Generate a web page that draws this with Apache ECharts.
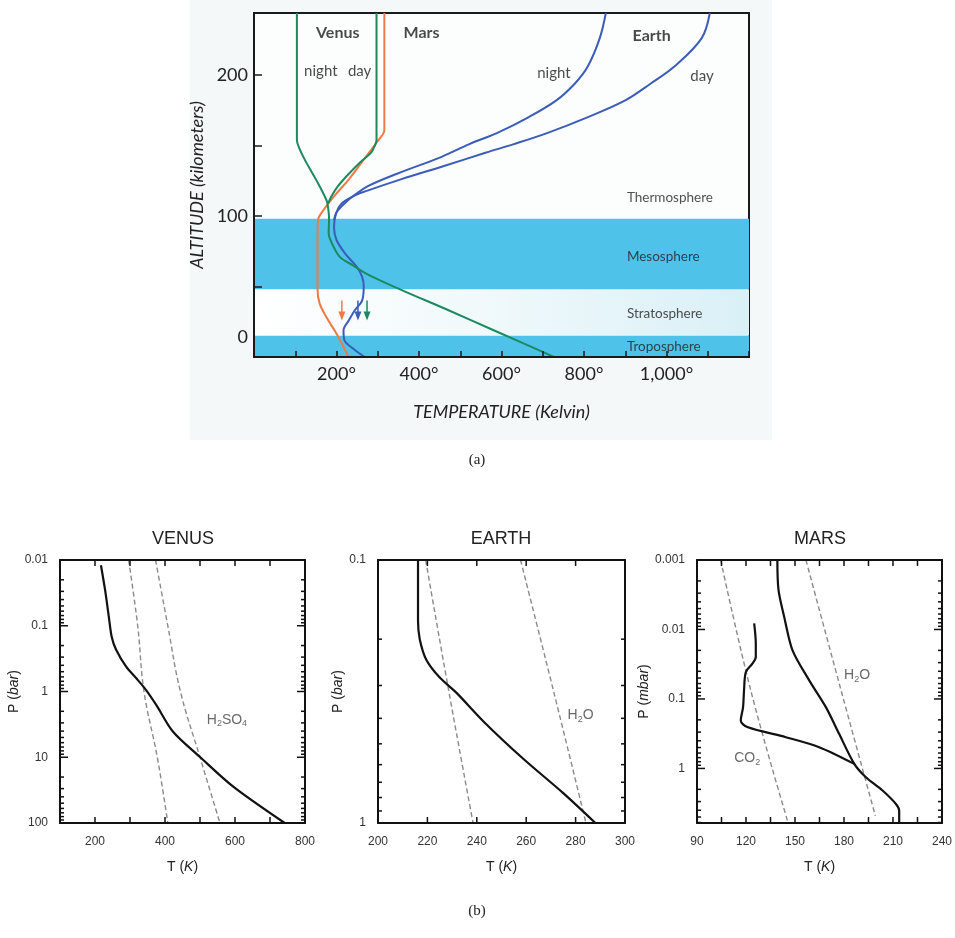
<!DOCTYPE html>
<html><head><meta charset="utf-8">
<script src="https://cdn.jsdelivr.net/npm/echarts@6/dist/echarts.min.js"></script>
<style>html,body{margin:0;padding:0;background:#fff}#c{width:955px;height:938px}</style>
</head><body><div id="c"></div>
<script>
// ================= Panel (a) data =================
const topXLabelValues = [200,400,600,800,1000];
const topXLabelText = ['200°','400°','600°','800°','1,000°'];
const topYLabelValues = [0,100,200];

const venusNight = [[104,244],[104,154],[110,148],[123,140],[150,126],[176,111],[180,105],[182,98],[181,88],[190,80],[208,71],[240,65],[273,59],[354,48],[473,33],[581,19],[712,2],[727,0]];
const venusDay   = [[297,244],[297,154],[293,150],[284,145],[257,138],[230,130],[203,121],[186,113],[180,109]];
const marsProfile = [[316,244],[316,161],[302,154],[266,140],[230,126],[194,114],[163,102],[155,97],[154,80],[154,48],[159,38],[176,28],[199,17],[226,2],[229,0]];
const earthNight = [[853,244],[838,226],[809,206],[778,194],[733,182],[665,170],[590,159],[522,151],[455,142],[347,130],[275,121],[240,114],[213,109],[199,102],[194,92],[200,83],[222,73],[249,64],[262,57],[266,50],[262,40],[244,33],[230,26],[217,19],[219,12],[240,6],[268,0]];
const earthDay   = [[1105,244],[1085,226],[1019,206],[962,194],[900,182],[808,170],[712,159],[630,151],[563,145],[455,135],[356,126],[275,118],[240,114],[213,107],[199,102],[194,97]];

const arrowT = [213, 252, 274];
const arrowTop = 40, arrowBottom = 29;
const arrowColors = ['#f07a45', '#3b5cb8', '#1b8a5e'];

const layerNames = ['Thermosphere','Mesosphere','Stratosphere','Troposphere'];
const layerAlt = [113, 71, 31, 7];
const layerT = 904;
const tropoBand = [0, 15];
const stratoBand = [15, 48];
const mesoBand = [48, 98];

const planetNames = ['Venus','Mars','Earth'];
const planetT = [203, 406, 964];
const planetAlt = [230, 230, 228];
const timeNames = ['night','day','night','day'];
const timeT = [162, 256, 727, 1086];
const timeAlt = [203, 203, 201, 199];

// ================= Panel (b) data =================
const venusXTicks = [100,200,300,400,500,600,700,800];
const venusXLabels = [200,400,600,800];
const venusYMajor = [0.01,0.1,1,10,100];
const venusYLabels = [0.01,0.1,1,10,100];
const venusProfile = [[217,0.012],[229,0.029],[239,0.07],[248,0.15],[260,0.23],[289,0.42],[318,0.63],[346,0.95],[375,1.6],[423,4.1],[500,9.9],[595,28],[742,100]];
const venusSat1 = [[296,0.01],[322,0.1],[340,1],[378,10],[408,100]];
const venusSat2 = [[373,0.01],[408,0.1],[444,1],[500,10],[557,100]];

const earthXTicks = [200,220,240,260,280,300];
const earthXLabels = [200,220,240,260,280,300];
const earthYMajor = [0.1,1];
const earthYMinor = [0.2,0.3,0.4,0.5,0.6,0.7,0.8,0.9];
const earthYLabels = [0.1,1];
const earthProfile = [[216.2,0.1],[216.2,0.17],[216.9,0.2],[219.6,0.24],[225,0.28],[231.8,0.32],[242.6,0.41],[258.8,0.57],[275,0.77],[288,1]];
const earthSat1 = [[219.3,0.1],[228.6,0.313],[238.5,1]];
const earthSat2 = [[257.7,0.1],[271,0.313],[284.2,1]];

const marsXTicks = [90,105,120,135,150,165,180,195,210,225,240];
const marsXLabels = [90,120,150,180,210,240];
const marsYMajor = [0.001,0.01,0.1,1];
const marsYLabels = [0.001,0.01,0.1,1];
const marsSurface = [[139.2,0.001],[139.9,0.0027],[143.4,0.0066],[148.5,0.02],[158.7,0.054],[168.9,0.131],[177,0.317],[186.3,0.86],[193.4,1.34],[203.6,2.08],[211.8,3.25],[213.8,4.05],[213.8,6.1]];
const marsLoop = [[125,0.0082],[126,0.0159],[126,0.0248],[123.9,0.031],[119.9,0.041],[118.8,0.075],[118.2,0.131],[116.8,0.204],[120.8,0.254],[144.4,0.355],[164.8,0.494],[186.3,0.86]];
const marsCO2 = [[104.5,0.001],[122.9,0.075],[145.4,5.65]];
const marsH2O = [[156.7,0.001],[178.2,0.075],[199.2,4.8]];

const satLabels = [
  {g:0, text:'H{s|2}SO{s|4}', at:[577,2.7]},
  {g:1, text:'H{s|2}O', at:[282,0.39]},
  {g:2, text:'H{s|2}O', at:[188,0.046]},
  {g:2, text:'CO{s|2}', at:[120.7,0.72]}
];

// ================= build =================
const FA = 'Lato';
const FB = 'Liberation Sans';

function logMinor(min, max){
  const out=[];
  for(let e=Math.floor(Math.log10(min)); e<=Math.ceil(Math.log10(max)); e++){
    for(let m=2;m<10;m++){
      const v=+(m*Math.pow(10,e)).toPrecision(3);
      if(v>min && v<max) out.push(v);
    }
  }
  return out;
}

const grids = [
  {left:254, right:206, top:13, bottom:581, show:true, backgroundColor:'#fcfefe', borderColor:'#1a1a1a', borderWidth:2},
  {left:60, right:650, top:560, bottom:115},
  {left:378, right:330, top:560, bottom:115},
  {left:697, right:12, top:560, bottom:115}
];

const xAxes = [{
  gridIndex:0, type:'value', min:0, max:1200, interval:100, z:10,
  axisLine:{show:true, onZero:false, lineStyle:{color:'#1a1a1a', width:2}},
  axisTick:{show:true, inside:true, length:6, lineStyle:{color:'#1a1a1a', width:1.5}},
  axisLabel:{margin:8, fontSize:18, fontFamily:FA, color:'#222', showMinLabel:true, showMaxLabel:true,
    formatter:v=>{const i=topXLabelValues.indexOf(Math.round(v)); return i>=0?topXLabelText[i]:'';}},
  splitLine:{show:false},
  name:'TEMPERATURE (Kelvin)', nameLocation:'middle', nameGap:46,
  nameTextStyle:{fontSize:18, fontStyle:'italic', fontFamily:FA, color:'#222'}
}];
const yAxes = [{
  gridIndex:0, type:'value', min:0, max:244, interval:50, z:10,
  axisLine:{show:true, onZero:false, lineStyle:{color:'#1a1a1a', width:2}},
  axisTick:{show:true, inside:true, length:8, lineStyle:{color:'#1a1a1a', width:1.5}},
  axisLabel:{margin:6, fontSize:18, fontFamily:FA, color:'#222', showMinLabel:true, showMaxLabel:false,
    formatter:v=>{const r=Math.round(v); if(topYLabelValues.indexOf(r)<0) return ''; return r===0?'{z|0}':String(r);},
    rich:{z:{fontSize:18, fontFamily:FA, color:'#222', padding:[0,0,40,0]}}},
  splitLine:{show:false},
  name:'ALTITUDE (kilometers)', nameLocation:'middle', nameGap:44, nameRotate:90,
  nameTextStyle:{fontSize:18, fontStyle:'italic', fontFamily:FA, color:'#222'}
}];

const bottomSpec = [
  {xmin:100, xmax:800, xint:100, xt:venusXTicks, xl:venusXLabels, ymin:0.01, ymax:100, ymaj:venusYMajor, minor:logMinor(0.01,100), yl:venusYLabels, yname:'P ({i|bar})', ygap:38},
  {xmin:200, xmax:300, xint:20, xt:earthXTicks, xl:earthXLabels, ymin:0.1, ymax:1, ymaj:earthYMajor, minor:earthYMinor, yl:earthYLabels, yname:'P ({i|bar})', ygap:22},
  {xmin:90, xmax:240, xint:15, xt:marsXTicks, xl:marsXLabels, ymin:0.001, ymax:6.1, ymaj:marsYMajor, minor:logMinor(0.001,6.1), yl:marsYLabels, yname:'P ({i|mbar})', ygap:37}
];
const lineB = {color:'#111', width:2};
const lblB = {fontSize:12, fontFamily:FB, color:'#333'};
const nameStyleB = {fontSize:14, fontFamily:FB, color:'#222', rich:{i:{fontSize:14, fontFamily:FB, fontStyle:'italic', color:'#222'}}};
bottomSpec.forEach((s,i)=>{
  const g=i+1;
  xAxes.push({gridIndex:g, type:'value', min:s.xmin, max:s.xmax, interval:s.xint, position:'bottom', z:10,
    axisLine:{show:true,onZero:false,lineStyle:lineB},
    axisTick:{show:false},
    axisLabel:Object.assign({margin:13, showMinLabel:true, showMaxLabel:true,
      formatter:(v=>{const r=Math.round(v); return s.xl.indexOf(r)>=0?String(r):'';})}, lblB),
    splitLine:{show:false},
    name:'T ({i|K})', nameLocation:'middle', nameGap:37, nameTextStyle:nameStyleB
  });
  xAxes.push({gridIndex:g, type:'value', min:s.xmin, max:s.xmax, interval:s.xint, position:'top', z:10,
    axisLine:{show:true,onZero:false,lineStyle:lineB},
    axisTick:{show:false}, axisLabel:{show:false}, splitLine:{show:false}});
  yAxes.push({gridIndex:g, type:'log', logBase:10, min:s.ymin, max:s.ymax, inverse:true, position:'left', z:10,
    axisLine:{show:true, onZero:false, lineStyle:lineB},
    axisTick:{show:false},
    axisLabel:Object.assign({customValues:s.yl, margin:12, showMinLabel:true, showMaxLabel:true,
      formatter:v=>String(+(+v).toPrecision(3))}, lblB),
    splitLine:{show:false},
    name:s.yname, nameLocation:'middle', nameGap:s.ygap, nameRotate:90, nameTextStyle:nameStyleB
  });
  yAxes.push({gridIndex:g, type:'log', logBase:10, min:s.ymin, max:s.ymax, inverse:true, position:'right', z:10,
    axisLine:{show:true, onZero:false, lineStyle:lineB},
    axisTick:{show:false}, axisLabel:{show:false}, splitLine:{show:false}});
});

const series = [];
// layer bands
series.push({type:'line', xAxisIndex:0, yAxisIndex:0, data:[], silent:true, z:1,
  markArea:{silent:true, data:[
    [{yAxis:stratoBand[0], itemStyle:{color:new echarts.graphic.LinearGradient(0,0,1,0,[{offset:0,color:'#ffffff'},{offset:0.45,color:'#f1f9fb'},{offset:1,color:'#d9f0f7'}])}},{yAxis:stratoBand[1]}],
    [{yAxis:tropoBand[0], itemStyle:{color:'#4fc2ea'}},{yAxis:tropoBand[1]}],
    [{yAxis:mesoBand[0], itemStyle:{color:'#4fc2ea'}},{yAxis:mesoBand[1]}]
  ]}});
const curve = (data,color,w)=>({type:'line', xAxisIndex:0, yAxisIndex:0, data, showSymbol:false, smooth:0.35, z:3,
  lineStyle:{color, width:w||2}, silent:true});
series.push(curve(marsProfile,'#f07a45'));
series.push(curve(earthDay,'#3b5cb8'));
series.push(curve(earthNight,'#3b5cb8'));
series.push(curve(venusDay,'#1b8a5e'));
series.push(curve(venusNight,'#1b8a5e'));
arrowT.forEach((t,i)=>{
  series.push({type:'line', xAxisIndex:0, yAxisIndex:0, z:4, silent:true,
    data:[{value:[t,arrowTop], symbol:'none'},{value:[t,arrowBottom], symbol:'triangle', symbolRotate:180, symbolSize:[7,9]}],
    showSymbol:true, lineStyle:{color:arrowColors[i], width:1.5}, itemStyle:{color:arrowColors[i]}});
});
// text labels (a)
series.push({type:'scatter', xAxisIndex:0, yAxisIndex:0, symbolSize:0, z:5, silent:true,
  data: layerNames.map((n,i)=>({name:n, value:[layerT, layerAlt[i]]})),
  label:{show:true, position:'right', distance:0, formatter:'{b}', fontSize:13.5, fontFamily:FA, color:'#222'}});
series.push({type:'scatter', xAxisIndex:0, yAxisIndex:0, symbolSize:0, z:5, silent:true,
  data: planetNames.map((n,i)=>({name:n, value:[planetT[i], planetAlt[i]]})),
  label:{show:true, position:'inside', formatter:'{b}', fontSize:16, fontWeight:'bold', fontFamily:FA, color:'#1a1a1a'}});
series.push({type:'scatter', xAxisIndex:0, yAxisIndex:0, symbolSize:0, z:5, silent:true,
  data: timeNames.map((n,i)=>({name:n, value:[timeT[i], timeAlt[i]]})),
  label:{show:true, position:'inside', formatter:'{b}', fontSize:15, fontFamily:FA, color:'#1a1a1a'}});

// panel (b)
const bSolid = (g,data)=>({type:'line', xAxisIndex:1+2*g, yAxisIndex:1+2*g, data, showSymbol:false, smooth:0.3, silent:true, z:3,
  lineStyle:{color:'#111', width:2.2}});
const bDash = (g,data)=>({type:'line', xAxisIndex:1+2*g, yAxisIndex:1+2*g, data, showSymbol:false, smooth:0.4, silent:true, z:2,
  lineStyle:{color:'#8a8a8a', width:1.4, type:[5,3]}});
series.push(bSolid(0,venusProfile), bDash(0,venusSat1), bDash(0,venusSat2));
series.push(bSolid(1,earthProfile), bDash(1,earthSat1), bDash(1,earthSat2));
series.push(bSolid(2,marsSurface), bSolid(2,marsLoop), bDash(2,marsCO2), bDash(2,marsH2O));
satLabels.forEach(l=>{
  series.push({type:'scatter', xAxisIndex:1+2*l.g, yAxisIndex:1+2*l.g, symbolSize:0, silent:true, z:5,
    data:[{value:l.at, name:l.text}],
    label:{show:true, position:'inside', formatter:'{b}', fontSize:14, fontFamily:FB, color:'#444',
      rich:{s:{fontSize:9, fontFamily:FB, color:'#444', padding:[8,0,0,0]}}}});
});
// inward tick marks on all four sides of each lower panel, placed through the axes' own scales
const tickStyle = {stroke:'#111', lineWidth:1.5};
bottomSpec.forEach((s,g)=>{
  const yTickData = s.ymaj.map(v=>[s.xmin, v, 8]).concat(s.minor.map(v=>[s.xmin, v, 4]));
  series.push({type:'custom', xAxisIndex:1+2*g, yAxisIndex:1+2*g, silent:true, z:6, clip:false,
    data: yTickData, encode:{x:0, y:1},
    renderItem:(params, api)=>{
      const p = api.value(1), len = api.value(2);
      const a = api.coord([s.xmin, p]);
      const b = api.coord([s.xmax, p]);
      return {type:'group', children:[
        {type:'line', shape:{x1:a[0], y1:a[1], x2:a[0]+len, y2:a[1]}, style:tickStyle},
        {type:'line', shape:{x1:b[0]-len, y1:b[1], x2:b[0], y2:b[1]}, style:tickStyle}
      ]};
    }});
  series.push({type:'custom', xAxisIndex:1+2*g, yAxisIndex:1+2*g, silent:true, z:6, clip:false,
    data: s.xt.map(v=>[v, s.ymin]), encode:{x:0, y:1},
    renderItem:(params, api)=>{
      const t = api.value(0), len = 6;
      const top = api.coord([t, s.ymin]);
      const bot = api.coord([t, s.ymax]);
      return {type:'group', children:[
        {type:'line', shape:{x1:top[0], y1:top[1], x2:top[0], y2:top[1]+len}, style:tickStyle},
        {type:'line', shape:{x1:bot[0], y1:bot[1]-len, x2:bot[0], y2:bot[1]}, style:tickStyle}
      ]};
    }});
});

const titles = [
  {text:'VENUS', left:183, top:530},
  {text:'EARTH', left:501, top:530},
  {text:'MARS', left:820, top:530}
].map(t=>Object.assign(t,{textAlign:'center', padding:0, textStyle:{fontSize:18, fontWeight:'normal', fontFamily:FB, color:'#222'}}));
titles.push({text:'(a)', left:477, top:453, textAlign:'center', padding:0, textStyle:{fontSize:15, fontWeight:'normal', fontFamily:'Liberation Serif', color:'#222'}});
titles.push({text:'(b)', left:477, top:904, textAlign:'center', padding:0, textStyle:{fontSize:15, fontWeight:'normal', fontFamily:'Liberation Serif', color:'#222'}});

const chart = echarts.init(document.getElementById('c'), null, {renderer:'canvas'});
chart.setOption({
  animation:false,
  backgroundColor:'#ffffff',
  graphic:[{type:'rect', z:-10, silent:true, shape:{x:190, y:0, width:582, height:440}, style:{fill:'#f5f8f8'}}],
  title:titles,
  grid:grids,
  xAxis:xAxes,
  yAxis:yAxes,
  series
});
</script></body></html>
